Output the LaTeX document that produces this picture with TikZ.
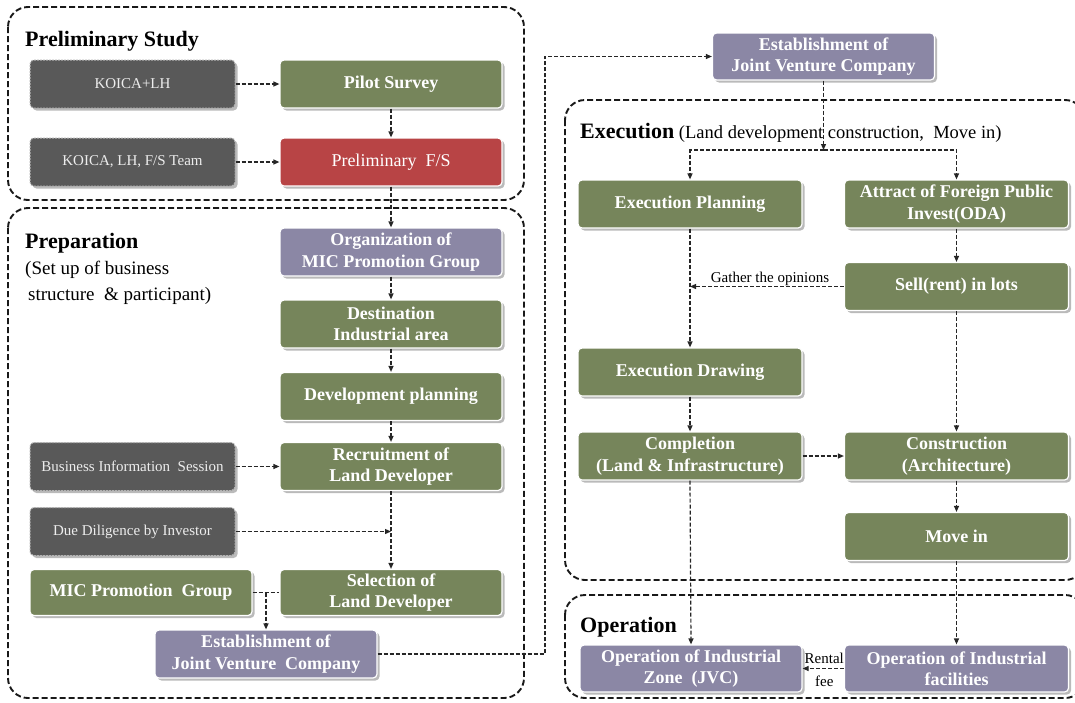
\documentclass[tikz,border=0pt]{standalone}
\usepackage{fontspec}
\setmainfont{Liberation Serif}
\usetikzlibrary{arrows.meta,shadows,calc}
\definecolor{boxgreen}{HTML}{76855B}
\definecolor{boxred}{HTML}{B84445}
\definecolor{boxpurple}{HTML}{8B87A5}
\definecolor{boxgray}{HTML}{595959}
\definecolor{graytext}{HTML}{EDEDED}
\begin{document}
\begin{tikzpicture}[x=1pt,y=-1pt,
 base/.style={rectangle, rounded corners=4pt, draw=white, line width=1.2pt,
   minimum width=222pt, minimum height=48pt, inner sep=2pt, align=center, text=white,
   font=\fontsize{18}{21.5}\selectfont\bfseries,
   drop shadow={shadow xshift=2.5pt, shadow yshift=-2.5pt, opacity=0.45, fill=black!60}},
 greenbox/.style={base, fill=boxgreen},
 redbox/.style={base, fill=boxred, font=\fontsize{18}{21.5}\selectfont},
 purplebox/.style={base, fill=boxpurple},
 graybox/.style={base, fill=boxgray, draw=white!70!black, line width=1pt, dash pattern=on 2pt off 1pt,
   minimum width=205pt, font=\fontsize{15}{18}\selectfont, text=graytext},
 conn/.style={line width=1.2pt, draw=black!85, dash pattern=on 4pt off 2pt,
   -{Triangle[length=6pt,width=5pt]}},
 plainconn/.style={line width=1.2pt, draw=black!85, dash pattern=on 4pt off 2pt},
 frame/.style={draw=black!90, line width=1.9pt, dash pattern=on 6pt off 3pt, rounded corners=20pt},
 title/.style={anchor=base west, inner sep=0pt, font=\fontsize{22}{26}\selectfont\bfseries},
 sub/.style={anchor=base west, inner sep=0pt, font=\fontsize{19}{22}\selectfont},
 lbl/.style={inner sep=1pt, font=\fontsize{15}{17}\selectfont},
]
\useasboundingbox (0,0) rectangle (1075,702);
\fill[white] (0,0) rectangle (1075,702);

% frames
\draw[frame] (8,7) rectangle (524,200);
\draw[frame] (8,208) rectangle (524,698);
\draw[frame] (565,100) rectangle (1085,580);
\draw[frame] (565,595) rectangle (1085,698);

% titles
\node[title] (tprel) at (25,46) {Preliminary Study};
\node[title] (tprep) at (25,248) {Preparation};
\node[sub] (tprep1) at (25,274) {(Set up of business};
\node[sub] (tprep2) at (28,300) {structure\ \ \& participant)};
\node[anchor=base west, inner sep=0pt] (texec) at (580,138)
  {{\fontsize{22}{26}\selectfont\bfseries Execution}{\fontsize{18.5}{22}\selectfont\ (Land development construction,\ \ Move in)}};
\node[title] (toper) at (580,632) {Operation};

% left column nodes
\node[graybox] (koica1) at (132.5,84) {KOICA+LH};
\node[greenbox] (pilot) at (391,84) {Pilot Survey};
\node[graybox] (koica2) at (132.5,162) {KOICA, LH, F/S Team};
\node[redbox] (prelfs) at (391,162) {Preliminary\ \ F/S};
\node[purplebox] (org) at (391,252) {Organization of\\MIC Promotion Group};
\node[greenbox] (dest) at (391,324) {Destination\\Industrial area};
\node[greenbox] (dev) at (391,396.5) {Development planning};
\node[graybox] (bis) at (132.5,466.5) {Business Information\ \ Session};
\node[greenbox] (recruit) at (391,466.5) {Recruitment of\\Land Developer};
\node[graybox] (due) at (132.5,531.5) {Due Diligence by Investor};
\node[greenbox, minimum height=46pt] (micpg) at (141,592.5) {MIC Promotion\ \ Group};
\node[greenbox, minimum height=46pt] (select) at (391,592.5) {Selection of\\Land Developer};
\node[purplebox] (jvc1) at (266,654) {Establishment of\\Joint Venture\ \ Company};

% right column nodes
\node[purplebox, minimum height=47pt] (jvc2) at (823.5,56.5) {Establishment of\\Joint Venture Company};
\node[greenbox, minimum width=224pt] (eplan) at (690,204) {Execution Planning};
\node[greenbox, minimum width=224pt] (attract) at (956.5,204) {Attract of Foreign Public\\Invest(ODA)};
\node[greenbox, minimum width=224pt] (sell) at (956.5,286.5) {Sell(rent) in lots};
\node[greenbox, minimum width=224pt] (edraw) at (690,372) {Execution Drawing};
\node[greenbox, minimum width=224pt] (compl) at (690,456) {Completion\\(Land \& Infrastructure)};
\node[greenbox, minimum width=224pt] (constr) at (956.5,456) {Construction\\(Architecture)};
\node[greenbox, minimum width=224pt] (movein) at (956.5,536.5) {Move in};
\node[purplebox, minimum height=47pt] (opzone) at (691,668.5) {Operation of Industrial\\Zone\ \ (JVC)};
\node[purplebox, minimum width=224pt, minimum height=47pt] (opfac) at (956.5,668.5) {Operation of Industrial\\facilities};

% connectors, left
\draw[conn] (koica1.east) -- (pilot.west);
\draw[conn] (koica2.east) -- (prelfs.west);
\draw[conn] (pilot.south) -- (prelfs.north);
\draw[conn] (prelfs.south) -- (org.north);
\draw[conn] (org.south) -- (dest.north);
\draw[conn] (dest.south) -- (dev.north);
\draw[conn] (dev.south) -- (recruit.north);
\draw[conn] (bis.east) -- (recruit.west);
\draw[conn] (recruit.south) -- (select.north);
\coordinate (dueend) at (recruit.south |- due.east);
\draw[conn] (due.east) -- (dueend);
\draw[plainconn] (micpg.east) -- (select.west);
\coordinate (mjoin) at (micpg.east -| jvc1.north);
\draw[conn] (mjoin) -- (jvc1.north);
\coordinate (bend1) at (545,654);
\draw[conn] (jvc1.east) -- (bend1) |- (jvc2.west);

% connectors, right
\coordinate (split) at (823.5,150);
\draw[conn] (jvc2.south) -- (split);
\draw[conn] (split) -| (eplan.north);
\draw[conn] (split) -| (attract.north);
\draw[conn] (eplan.south) -- (edraw.north);
\draw[conn] (attract.south) -- (sell.north);
\coordinate (gatherend) at (eplan.south |- sell.west);
\draw[conn] (sell.west) -- (gatherend);
\node[lbl] (gather) at (770,279) {Gather the opinions};
\draw[conn] (sell.south) -- (constr.north);
\draw[conn] (edraw.south) -- (compl.north);
\draw[conn] (compl.east) -- (constr.west);
\draw[conn] (constr.south) -- (movein.north);
\draw[conn] (compl.south) -- (opzone.north);
\draw[conn] (movein.south) -- (opfac.north);
\draw[conn] (opfac.west) -- (opzone.east);
\coordinate (rmid) at ($(opzone.east)!0.5!(opfac.west)$);
\node[lbl, inner sep=0pt] (rental) at ($(rmid)+(1,-10)$) {Rental};
\node[lbl, inner sep=0pt] (fee) at ($(rmid)+(1,13)$) {fee};
\end{tikzpicture}
\end{document}
